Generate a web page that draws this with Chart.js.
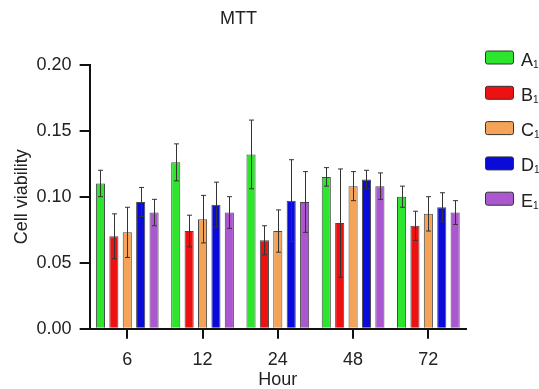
<!DOCTYPE html>
<html>
<head>
<meta charset="utf-8">
<script src="https://cdn.jsdelivr.net/npm/chart.js@4"></script>
<style>
  body { margin: 0; background: #fff; }
  #wrap { width: 539px; height: 389px; }
</style>
</head>
<body>
<div id="wrap"><canvas id="mttChart"></canvas></div>
<script>
// MTT data (mean and SD per group)
const hours = ['6', '12', '24', '48', '72'];
const groupNames = ['A', 'B', 'C', 'D', 'E'];
const valuesA = [0.110, 0.126, 0.132, 0.115, 0.100];
const errorsA = [0.010, 0.014, 0.026, 0.007, 0.008];
const valuesB = [0.070, 0.074, 0.067, 0.080, 0.078];
const errorsB = [0.017, 0.012, 0.011, 0.041, 0.011];
const valuesC = [0.073, 0.083, 0.074, 0.108, 0.087];
const errorsC = [0.019, 0.018, 0.016, 0.011, 0.013];
const valuesD = [0.096, 0.094, 0.097, 0.113, 0.092];
const errorsD = [0.011, 0.017, 0.031, 0.007, 0.011];
const valuesE = [0.088, 0.088, 0.096, 0.108, 0.088];
const errorsE = [0.010, 0.012, 0.023, 0.010, 0.009];
const yTicks = [0, 0.05, 0.10, 0.15, 0.20];

const colors = ['#2ee52e', '#ee1111', '#f5a356', '#0b0bd9', '#ab57cf'];
const font = 'Liberation Sans, Arial, sans-serif';

const allValues = [valuesA, valuesB, valuesC, valuesD, valuesE];
const allErrors = [errorsA, errorsB, errorsC, errorsD, errorsE];

const datasets = groupNames.map((name, i) => ({
    label: name,
    data: allValues[i],
    errors: allErrors[i],
    backgroundColor: colors[i],
    borderColor: 'rgba(40, 40, 40, 0.85)',
    borderWidth: 1,
    categoryPercentage: 0.89,
    barPercentage: 0.68
}));

// draws mean +/- SD whiskers through each bar
const errorBars = {
    id: 'errorBars',
    afterDatasetsDraw(chart) {
        const ctx = chart.ctx;
        const yScale = chart.scales.y;
        ctx.save();
        ctx.strokeStyle = '#333';
        ctx.lineWidth = 1;
        chart.data.datasets.forEach((ds, i) => {
            chart.getDatasetMeta(i).data.forEach((bar, j) => {
                const v = ds.data[j], e = ds.errors[j];
                const top = yScale.getPixelForValue(v + e);
                const bot = yScale.getPixelForValue(v - e);
                const x = Math.round(bar.x) + 0.5;
                ctx.beginPath();
                ctx.moveTo(x, top);
                ctx.lineTo(x, bot);
                ctx.moveTo(x - 2.5, top);
                ctx.lineTo(x + 2.5, top);
                ctx.moveTo(x - 2.5, bot);
                ctx.lineTo(x + 2.5, bot);
                ctx.stroke();
            });
        });
        ctx.restore();
    }
};

// legend on the right with subscript labels
const sideLegend = {
    id: 'sideLegend',
    afterDraw(chart) {
        const ctx = chart.ctx;
        ctx.save();
        chart.data.datasets.forEach((ds, i) => {
            const cy = 57.5 + i * 35.3;
            ctx.fillStyle = ds.backgroundColor;
            ctx.strokeStyle = '#333';
            ctx.lineWidth = 1;
            ctx.beginPath();
            ctx.roundRect(485.5, cy - 6.5, 28, 13, 2);
            ctx.fill();
            ctx.stroke();
            ctx.fillStyle = '#222';
            ctx.textBaseline = 'alphabetic';
            ctx.font = '18px ' + font;
            ctx.fillText(ds.label, 521, cy + 8);
            const w = ctx.measureText(ds.label).width;
            ctx.font = '10px ' + font;
            ctx.fillText('1', 521 + w, cy + 10);
        });
        ctx.restore();
    }
};

const ctx = document.getElementById('mttChart').getContext('2d');
new Chart(ctx, {
    type: 'bar',
    data: {
        labels: hours,
        datasets: datasets
    },
    options: {
        responsive: true,
        maintainAspectRatio: false,
        animation: false,
        layout: {
            padding: { left: 11, right: 73, top: 4, bottom: 0 }
        },
        scales: {
            x: {
                grid: {
                    display: true,
                    drawOnChartArea: false,
                    offset: false,
                    tickLength: 10,
                    color: '#111',
                    lineWidth: 2
                },
                border: { color: '#111', width: 2 },
                ticks: { color: '#222', font: { family: font, size: 18 }, padding: 10 },
                title: {
                    display: true,
                    text: 'Hour',
                    color: '#222',
                    font: { family: font, size: 18 },
                    padding: { top: -11, bottom: -2 }
                }
            },
            y: {
                min: 0,
                max: 0.2,
                afterBuildTicks: scale => {
                    scale.ticks = yTicks.map(v => ({ value: v }));
                },
                grid: {
                    display: true,
                    drawOnChartArea: false,
                    tickLength: 10,
                    color: '#111',
                    lineWidth: 2
                },
                border: { color: '#111', width: 2 },
                ticks: {
                    color: '#222',
                    font: { family: font, size: 18 },
                    padding: 8,
                    callback: v => v.toFixed(2)
                },
                title: {
                    display: true,
                    text: 'Cell viability',
                    color: '#222',
                    font: { family: font, size: 18 },
                    padding: { top: 0, bottom: -4 }
                }
            }
        },
        plugins: {
            legend: { display: false },
            tooltip: { enabled: false },
            title: {
                display: true,
                text: 'MTT',
                color: '#222',
                font: { family: font, size: 18, weight: 'normal' },
                padding: { top: 4, bottom: 35 }
            }
        }
    },
    plugins: [errorBars, sideLegend]
});
</script>
</body>
</html>
